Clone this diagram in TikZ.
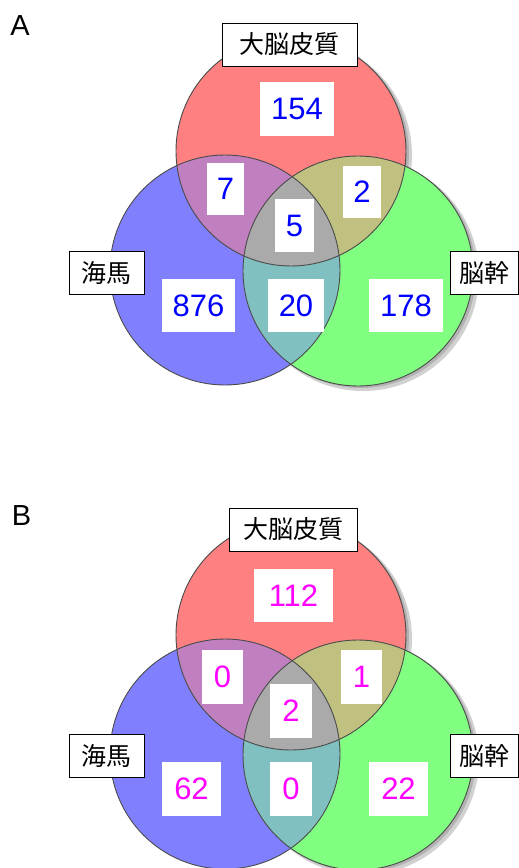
\documentclass[tikz,border=0pt]{standalone}
\usepackage{fontspec}
\setmainfont{Liberation Sans}
\newfontfamily\jp{Noto Sans CJK JP}
\definecolor{cR}{RGB}{255,128,128}
\definecolor{cB}{RGB}{128,128,255}
\definecolor{cG}{RGB}{128,255,128}
\definecolor{cRB}{RGB}{192,128,192}
\definecolor{cRG}{RGB}{192,192,128}
\definecolor{cBG}{RGB}{128,192,192}
\definecolor{cRGB}{RGB}{170,170,170}
\definecolor{edge}{RGB}{75,75,75}
\definecolor{numA}{RGB}{0,0,255}
\definecolor{numB}{RGB}{255,0,255}
\newcommand{\vennset}[1]{%
\begin{scope}[shift={(0,#1)}]
  \fill[black!18] (296,155) circle[radius=116pt];
  \fill[black!18] (363,275) circle[radius=116pt];
  \fill[black!30] (294,153) circle[radius=115pt];
  \fill[black!30] (361,273) circle[radius=115pt];
  \fill[cR] (291,151) circle[radius=115pt];
  \fill[cB] (225,270) circle[radius=115pt];
  \fill[cG] (358,271) circle[radius=115pt];
  \begin{scope}
    \clip (291,151) circle[radius=115pt];
    \fill[cRB] (225,270) circle[radius=115pt];
    \fill[cRG] (358,271) circle[radius=115pt];
  \end{scope}
  \begin{scope}
    \clip (225,270) circle[radius=115pt];
    \fill[cBG] (358,271) circle[radius=115pt];
    \clip (291,151) circle[radius=115pt];
    \fill[cRGB] (358,271) circle[radius=115pt];
  \end{scope}
  \draw[edge, line width=0.9pt] (291,151) circle[radius=115pt];
  \draw[edge, line width=0.9pt] (225,270) circle[radius=115pt];
  \draw[edge, line width=0.9pt] (358,271) circle[radius=115pt];
\end{scope}}
\begin{document}
\begin{tikzpicture}[x=1pt,y=-1pt,
  lab/.style={draw=black, fill=white, line width=1pt, inner sep=0pt,
    minimum height=43pt, font=\jp\fontsize{25}{25}\selectfont},
  numbox/.style={fill=white, inner sep=0pt, font=\fontsize{31}{31}\selectfont},
  panel/.style={font=\fontsize{29}{29}\selectfont}]
\useasboundingbox (0,0) rectangle (519,868);
\fill[white] (0,0) rectangle (519,868);

% ---------- Panel A ----------
\node[panel] (pA) at (20,26) {A};
\vennset{0}
\node[lab, minimum width=135pt] (aCor) at (289.5,44.5) {大脳皮質};
\node[lab, minimum width=75pt] (aHip) at (106.5,272.5) {海馬};
\node[lab, minimum width=68pt] (aBst) at (484,272.5) {脳幹};
\begin{scope}[numbox/.append style={text=numA}]
\node[numbox, minimum width=74pt, minimum height=54pt] (a1) at (297,109) {154};
\node[numbox, minimum width=37pt, minimum height=52pt] (a2) at (225.5,189) {7};
\node[numbox, minimum width=38pt, minimum height=52pt] (a3) at (362,192) {2};
\node[numbox, minimum width=39pt, minimum height=53pt] (a4) at (294.5,225.5) {5};
\node[numbox, minimum width=73pt, minimum height=53pt] (a5) at (198.5,305.5) {876};
\node[numbox, minimum width=56pt, minimum height=53pt] (a6) at (296,305.5) {20};
\node[numbox, minimum width=74pt, minimum height=53pt] (a7) at (406,305.5) {178};
\end{scope}

% ---------- Panel B ----------
\node[panel] (pB) at (21.5,516) {B};
\vennset{484}
\node[lab, minimum width=128pt] (bCor) at (293,529.5) {大脳皮質};
\node[lab, minimum width=75pt] (bHip) at (106.5,755.5) {海馬};
\node[lab, minimum width=68pt] (bBst) at (484,755.5) {脳幹};
\begin{scope}[numbox/.append style={text=numB}]
\node[numbox, minimum width=79pt, minimum height=53pt] (b1) at (293.5,595.5) {112};
\node[numbox, minimum width=41pt, minimum height=54pt] (b2) at (222.5,677) {0};
\node[numbox, minimum width=41pt, minimum height=54pt] (b3) at (361.5,677) {1};
\node[numbox, minimum width=42pt, minimum height=54pt] (b4) at (291,711) {2};
\node[numbox, minimum width=59pt, minimum height=54pt] (b5) at (191.5,789) {62};
\node[numbox, minimum width=42pt, minimum height=54pt] (b6) at (291,789) {0};
\node[numbox, minimum width=59pt, minimum height=54pt] (b7) at (398.5,789) {22};
\end{scope}
\end{tikzpicture}
\end{document}
